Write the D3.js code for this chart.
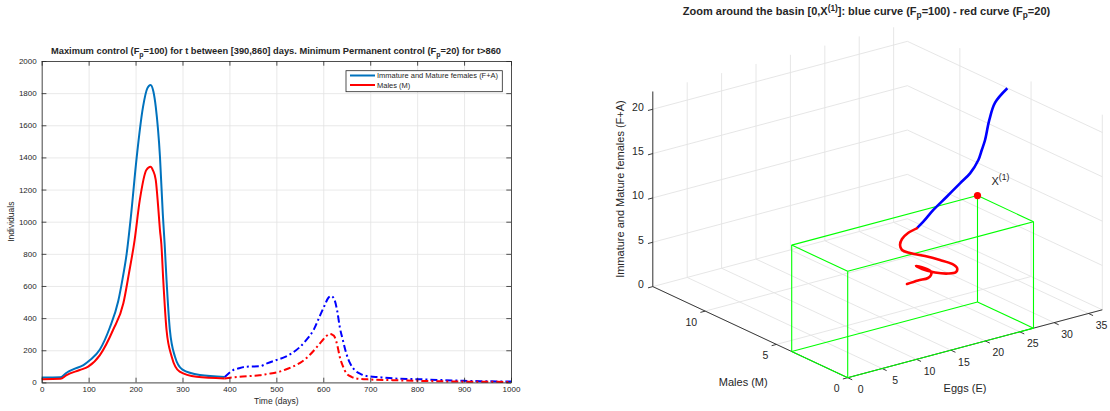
<!DOCTYPE html>
<html><head><meta charset="utf-8">
<script src="https://cdn.jsdelivr.net/npm/d3@7"></script>
<style>
body{margin:0;background:#fff}
svg{display:block}
text{font-family:"Liberation Sans",Arial,Helvetica,sans-serif;fill:#262626}
</style>
</head><body>
<svg id="c" width="1110" height="411"></svg>
<script>
// ---------- Left chart data ----------
const timeTicks = [0,100,200,300,400,500,600,700,800,900,1000];
const indTicks = [0,200,400,600,800,1000,1200,1400,1600,1800,2000];

const femT = [0,40,53,67,89,103,124,145,163,172,181,190,202,216,225,232,238,243,252,258,262,266,273,284,300,337,390];
const femV = [30,32,60,81,108,139,205,340,505,640,800,1030,1390,1716,1830,1851,1810,1716,1404,1050,860,637,330,160,80,46,34];
const maleT = [0,40,53,81,99,124,152,174,186,198,209,223,232,237,243,248,252,255,259,266,277,294,330,390];
const maleV = [20,22,46,77,98,170,326,492,680,886,1134,1322,1342,1320,1260,1100,948,860,637,326,160,67,35,25];
const femCT = [390,400,408,420,436,464,480,500,520,535,550,564,580,592,603,610,617,624,630,635,642,649,657,667,680,692,720,748,800,860,900,950,1000];
const femCV = [34,60,77,88,98,100,118,139,160,185,220,264,330,409,480,523,538,513,440,347,260,181,120,77,52,40,32,25,20,14,10,7,5];
const maleCT = [390,405,422,445,464,480,507,520,535,555,571,585,599,608,614,620,624,630,635,642,649,660,670,700,748,800,890,1000];
const maleCV = [25,30,35,40,44,52,67,80,98,130,170,215,264,292,301,295,284,230,160,100,57,35,25,18,14,10,5,3];

const legendLabels = ["Immature and Mature females (F+A)", "Males (M)"];

// ---------- 3D chart data ----------
const eggTicks = [0,5,10,15,20,25,30,35];
const maleTicks3 = [0,5,10];
const femTicks3 = [0,5,10,15,20];
const eggRange = [0,37];
const maleRange = [0,13.68];
const femRange = [0,22];
const x1Point = [27,3.93,12]; // [E, M, F+A]

const blueE = [36.99,34.67,33.21,31.97,31.08,30.17,28.34,26.26,23.5,20.73,18.65,17.28];
const blueM = [6.66,6.4,6.1,5.8,5.6,5.4,5.1,4.8,4.4,4.0,3.7,3.5];
const blueF = [19.98,19.03,17.61,15.83,15.04,14.25,13.35,12.88,12.24,11.62,10.95,10.64];

const redE = [17.28,15.6,14.31,13.61,13.69,14.75,16.83,18.9,20.55,21.17,20.92,19.65,17.66,15.67,14.69,15.75,16.66,16.56,16.02,14.46,12.76];
const redM = [3.5,3.3,3.1,2.9,2.8,2.75,2.7,2.65,2.6,2.55,2.5,2.45,2.4,2.35,2.3,2.25,2.2,2.15,2.1,2.05,2.0];
const redF = [10.64,10.61,10.35,9.97,9.46,8.94,8.21,7.37,6.62,6.08,5.71,5.84,6.41,7.25,7.83,7.42,6.85,6.54,6.35,6.43,6.42];

const svg = d3.select("#c");
const AX = "#262626", GRID = "#e3e3e3";

// ================= LEFT CHART =================
const L = {l:41.7, r:511, t:61, b:382.4};
const x = d3.scaleLinear([0,1000],[L.l,L.r]);
const y = d3.scaleLinear([0,2000],[L.b,L.t]);
const g1 = svg.append("g");
const fmt = d3.format("d");

// grid
g1.append("g").attr("transform",`translate(0,${L.b})`)
  .call(d3.axisBottom(x).tickValues(timeTicks).tickSize(-(L.b-L.t)).tickFormat(""))
  .call(s=>{s.select(".domain").remove(); s.selectAll("line").attr("stroke",GRID).attr("stroke-width",0.8);});
g1.append("g").attr("transform",`translate(${L.l},0)`)
  .call(d3.axisLeft(y).tickValues(indTicks).tickSize(-(L.r-L.l)).tickFormat(""))
  .call(s=>{s.select(".domain").remove(); s.selectAll("line").attr("stroke",GRID).attr("stroke-width",0.8);});

// lines
const line = d3.line().x(d=>x(d[0])).y(d=>y(d[1])).curve(d3.curveMonotoneX);
const zip = (a,b)=>a.map((v,i)=>[v,b[i]]);
g1.append("path").attr("d",line(zip(femT,femV))).attr("fill","none").attr("stroke","#0072BD").attr("stroke-width",2);
g1.append("path").attr("d",line(zip(maleT,maleV))).attr("fill","none").attr("stroke","#FF0000").attr("stroke-width",2);
g1.append("path").attr("d",line(zip(femCT,femCV))).attr("fill","none").attr("stroke","#0000FF").attr("stroke-width",2).attr("stroke-dasharray","7,3,2,3");
g1.append("path").attr("d",line(zip(maleCT,maleCV))).attr("fill","none").attr("stroke","#FF0000").attr("stroke-width",2).attr("stroke-dasharray","7,3,2,3");

// axes (ticks inward on all sides)
function styleAx(s){ s.select(".domain").attr("stroke",AX).attr("stroke-width",0.8); s.selectAll("line").attr("stroke",AX).attr("stroke-width",0.8); s.selectAll("text").attr("fill",AX).style("font-size","8px"); }
g1.append("g").attr("transform",`translate(0,${L.b})`)
  .call(d3.axisBottom(x).tickValues(timeTicks).tickFormat(fmt).tickSizeInner(-4.7).tickSizeOuter(0).tickPadding(4))
  .call(styleAx);
g1.append("g").attr("transform",`translate(0,${L.t})`)
  .call(d3.axisTop(x).tickValues(timeTicks).tickSizeInner(-4.7).tickSizeOuter(0).tickFormat(""))
  .call(styleAx);
g1.append("g").attr("transform",`translate(${L.l},0)`)
  .call(d3.axisLeft(y).tickValues(indTicks).tickFormat(fmt).tickSizeInner(-4.7).tickSizeOuter(0).tickPadding(5))
  .call(styleAx);
g1.append("g").attr("transform",`translate(${L.r},0)`)
  .call(d3.axisRight(y).tickValues(indTicks).tickSizeInner(-4.7).tickSizeOuter(0).tickFormat(""))
  .call(styleAx);

// labels
g1.append("text").attr("x",(L.l+L.r)/2).attr("y",404).attr("text-anchor","middle").style("font-size","8.5px").text("Time (days)");
g1.append("text").attr("transform",`translate(14,${(L.t+L.b)/2}) rotate(-90)`).attr("text-anchor","middle").style("font-size","8.5px").text("Individuals");

// title with subscripts
const t1 = g1.append("text").attr("x",276).attr("y",54).attr("text-anchor","middle").style("font-size","9.3px").style("font-weight","bold");
function addSub(t, parts){
  parts.forEach(p=>{
    if (p.sub) t.append("tspan").attr("dy",2.8).style("font-size","0.75em").text(p.sub);
    else if (p.sup) t.append("tspan").attr("dy",-4.5).style("font-size","0.75em").text(p.sup);
    else t.append("tspan").attr("dy",p.dy||0).text(p.txt);
  });
}
addSub(t1,[{txt:"Maximum control (F"},{sub:"p"},{txt:"=100) for t between [390,860] days. Minimum Permanent control (F",dy:-2.8},{sub:"p"},{txt:"=20) for t>860",dy:-2.8}]);

// legend
const lg = g1.append("g");
lg.append("rect").attr("x",346).attr("y",70.7).attr("width",156.3).attr("height",21).attr("fill","#fff").attr("stroke",AX).attr("stroke-width",0.8);
const legCols = ["#0072BD","#FF0000"];
legendLabels.forEach((lab,i)=>{
  const yy = 75.5 + i*9.5;
  lg.append("line").attr("x1",350).attr("x2",375).attr("y1",yy).attr("y2",yy).attr("stroke",legCols[i]).attr("stroke-width",2);
  lg.append("text").attr("x",377).attr("y",yy+2.6).style("font-size","7.5px").text(lab);
});

// ================= 3D CHART =================
const g2 = svg.append("g");
const O = [847.7,377.7], vE = [254.6,-67.9], vM = [-194.9,-91.1], vF = [0,-195.1];
const sE = d3.scaleLinear(eggRange,[0,1]);
const sM = d3.scaleLinear(maleRange,[0,1]);
const sF = d3.scaleLinear(femRange,[0,1]);
function P(e,m,f){ const a=sE(e), b=sM(m), c=sF(f); return [O[0]+a*vE[0]+b*vM[0]+c*vF[0], O[1]+a*vE[1]+b*vM[1]+c*vF[1]]; }
function seg(g,a,b,stroke,w){ const p=P(...a), q=P(...b); g.append("line").attr("x1",p[0]).attr("y1",p[1]).attr("x2",q[0]).attr("y2",q[1]).attr("stroke",stroke).attr("stroke-width",w); }
const Emax=eggRange[1], Mmax=maleRange[1], Fmax=femRange[1];

// grid
const gg = g2.append("g");
eggTicks.forEach(e=>{ seg(gg,[e,0,0],[e,Mmax,0],GRID,0.9); seg(gg,[e,Mmax,0],[e,Mmax,Fmax],GRID,0.9); });
maleTicks3.forEach(m=>{ seg(gg,[0,m,0],[Emax,m,0],GRID,0.9); seg(gg,[Emax,m,0],[Emax,m,Fmax],GRID,0.9); });
femTicks3.forEach(f=>{ seg(gg,[0,Mmax,f],[Emax,Mmax,f],GRID,0.9); seg(gg,[Emax,0,f],[Emax,Mmax,f],GRID,0.9); });

// axes
const ga = g2.append("g");
seg(ga,[0,0,0],[Emax,0,0],AX,0.9);
seg(ga,[0,0,0],[0,Mmax,0],AX,0.9);
seg(ga,[0,Mmax,0],[0,Mmax,Fmax],AX,0.9);
// ticks
const uM = [0.906,0.423], uE = [-0.966,0.258];
eggTicks.forEach(e=>{ const p=P(e,0,0);
  ga.append("line").attr("x1",p[0]).attr("y1",p[1]).attr("x2",p[0]+5*uM[0]).attr("y2",p[1]+5*uM[1]).attr("stroke",AX).attr("stroke-width",0.9);
  ga.append("text").attr("x",p[0]+13).attr("y",p[1]+15.5).attr("text-anchor","middle").style("font-size","10.5px").text(e);
});
maleTicks3.forEach(m=>{ const p=P(0,m,0);
  ga.append("line").attr("x1",p[0]).attr("y1",p[1]).attr("x2",p[0]+5*uE[0]).attr("y2",p[1]+5*uE[1]).attr("stroke",AX).attr("stroke-width",0.9);
  ga.append("text").attr("x",p[0]-8).attr("y",p[1]+14.5).attr("text-anchor","end").style("font-size","10.5px").text(m);
});
femTicks3.forEach(f=>{ const p=P(0,Mmax,f);
  ga.append("line").attr("x1",p[0]).attr("y1",p[1]).attr("x2",p[0]+5*uE[0]).attr("y2",p[1]+5*uE[1]).attr("stroke",AX).attr("stroke-width",0.9);
  ga.append("text").attr("x",p[0]-9).attr("y",p[1]+1.5).attr("text-anchor","end").style("font-size","10.5px").text(f);
});
// axis labels
{ const p=P(0,Mmax/2,0); ga.append("text").attr("x",p[0]-7).attr("y",p[1]+54).attr("text-anchor","middle").style("font-size","11px").text("Males (M)"); }
{ const p=P(Emax/2,0,0); ga.append("text").attr("x",p[0]-10).attr("y",p[1]+48).attr("text-anchor","middle").style("font-size","11px").text("Eggs (E)"); }
{ const p=P(0,Mmax,Fmax/2); ga.append("text").attr("transform",`translate(${p[0]-29},${p[1]}) rotate(-90)`).attr("text-anchor","middle").style("font-size","11px").text("Immature and Mature females (F+A)"); }

// green box [0,X1]
const gb = g2.append("g");
const [xe,xm,xf] = x1Point;
const cs = [[0,0,0],[xe,0,0],[0,xm,0],[xe,xm,0],[0,0,xf],[xe,0,xf],[0,xm,xf],[xe,xm,xf]];
[[0,1],[0,2],[1,3],[2,3],[4,5],[4,6],[5,7],[6,7],[0,4],[1,5],[2,6],[3,7]].forEach(([a,b])=>seg(gb,cs[a],cs[b],"#00FF00",1.1));

// curves
const line3 = d3.line().x(d=>P(...d)[0]).y(d=>P(...d)[1]).curve(d3.curveCatmullRom);
const bluePts = blueE.map((e,i)=>[e,blueM[i],blueF[i]]);
const redPts = redE.map((e,i)=>[e,redM[i],redF[i]]);
g2.append("path").attr("d",line3(bluePts)).attr("fill","none").attr("stroke","#0000FF").attr("stroke-width",2.6).attr("stroke-linejoin","round");
g2.append("path").attr("d",line3(redPts)).attr("fill","none").attr("stroke","#FF0000").attr("stroke-width",2.6).attr("stroke-linejoin","round").attr("stroke-linecap","round");

// X1 point + label
{ const p=P(...x1Point);
  g2.append("circle").attr("cx",p[0]).attr("cy",p[1]).attr("r",3.6).attr("fill","#FF0000");
  const t = g2.append("text").attr("x",p[0]+14).attr("y",p[1]-11).style("font-size","11px");
  t.append("tspan").text("X");
  t.append("tspan").attr("dy",-5).style("font-size","8.5px").text("(1)");
}

// title
const t2 = g2.append("text").attr("x",866.5).attr("y",15).attr("text-anchor","middle").style("font-size","11px").style("font-weight","bold");
addSub(t2,[{txt:"Zoom around the basin [0,X"},{sup:"(1)"},{txt:"]: blue curve (F",dy:4.5},{sub:"p"},{txt:"=100) - red curve (F",dy:-2.8},{sub:"p"},{txt:"=20)",dy:-2.8}]);
</script>
</body></html>
